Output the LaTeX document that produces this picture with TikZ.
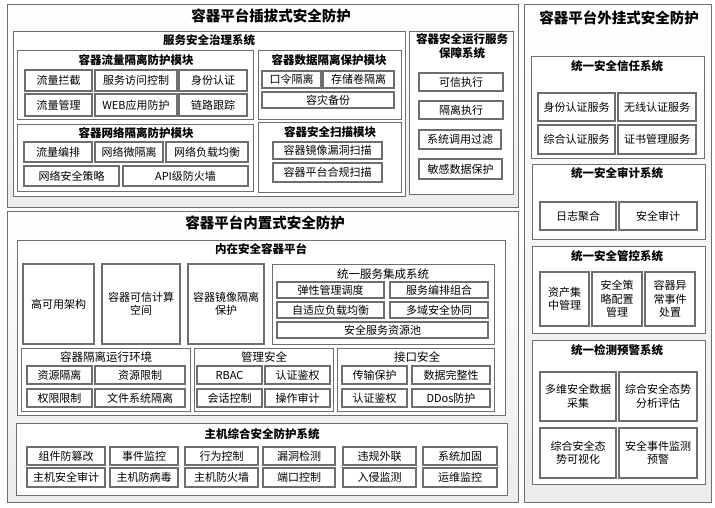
\documentclass[tikz,border=0pt]{standalone}
\usepackage{fontspec}
\setmainfont{Noto Sans CJK SC}
\definecolor{bord}{HTML}{6E6E6E}
\definecolor{bgg}{HTML}{ECECEC}
\tikzset{
  item/.style={draw=bord, line width=1.1pt, fill=white, inner sep=0.5pt, outer sep=0pt, align=center, font=\fontsize{11}{13.5}\selectfont},
  grp/.style={draw=bord, line width=0.8pt, fill=white, inner sep=0pt, outer sep=0pt},
  outerbox/.style={draw=bord, line width=0.8pt, top color=white, bottom color=bgg, inner sep=0pt, outer sep=0pt},
  bigt/.style={font=\bfseries\fontsize{14.5}{16}\selectfont, inner sep=0pt},
  midt/.style={font=\bfseries\fontsize{11.5}{14}\selectfont, inner sep=0pt, align=center},
  regt/.style={font=\fontsize{11.5}{14}\selectfont, inner sep=0pt},
}
\newcommand{\bx}[7]{\node[#6, anchor=north west, minimum width={(#4-#2)*1pt}, minimum height={(#5-#3)*1pt}] (#1) at (#2,#3) {#7};}
\begin{document}
\begin{tikzpicture}[x=1pt,y=-1pt]
\path[fill=white] (0,0) rectangle (715,508);
\useasboundingbox (0,0) rectangle (715,508);
% outer frames
\bx{o1}{7}{4}{518}{207}{outerbox}{}
\bx{o2}{7}{211}{518}{502}{outerbox}{}
\bx{o3}{524}{4}{711}{502}{outerbox}{}
\node[bigt] (t1) at (271,16) {容器平台插拔式安全防护};
\node[bigt] (t2) at (265,223) {容器平台内置式安全防护};
\node[bigt] (t3) at (619,18) {容器平台外挂式安全防护};
% service governance
\bx{g1}{13}{31}{405}{196}{grp}{}
\node[midt] (g1t) at (209,40) {服务安全治理系统};
\bx{m1}{17}{50}{253}{119}{grp}{}
\node[midt] (m1t) at (136,60) {容器流量隔离防护模块};
\bx{a1}{25}{70}{92}{91}{item}{流量拦截}
\bx{a2}{95}{70}{177}{91}{item}{服务访问控制}
\bx{a3}{179}{70}{247}{91}{item}{身份认证}
\bx{a4}{25}{94}{92}{116}{item}{流量管理}
\bx{a5}{95}{94}{177}{116}{item}{WEB应用防护}
\bx{a6}{179}{94}{247}{116}{item}{链路跟踪}
\bx{m2}{17}{124}{253}{191}{grp}{}
\node[midt] (m2t) at (136,133) {容器网络隔离防护模块};
\bx{b1}{24}{142}{92}{162}{item}{流量编排}
\bx{b2}{95}{142}{163}{162}{item}{网络微隔离}
\bx{b3}{166}{142}{248}{162}{item}{网络负载均衡}
\bx{b4}{24}{166}{119}{186}{item}{网络安全策略}
\bx{b5}{123}{166}{248}{186}{item}{API级防火墙}
\bx{m3}{258}{50}{401}{119}{grp}{}
\node[midt] (m3t) at (329,60) {容器数据隔离保护模块};
\bx{c1}{262}{71}{321}{88}{item}{口令隔离}
\bx{c2}{323}{71}{394}{88}{item}{存储卷隔离}
\bx{c3}{262}{92}{394}{108}{item}{容灾备份}
\bx{m4}{258}{122}{401}{192}{grp}{}
\node[midt] (m4t) at (330,132) {容器安全扫描模块};
\bx{d1}{273}{142}{382}{159}{item}{容器镜像漏洞扫描}
\bx{d2}{273}{163}{382}{182}{item}{容器平台合规扫描}
% runtime
\bx{g2}{409}{31}{513}{194}{grp}{}
\node[midt] (g2t) at (462,46) {容器安全运行服务\\保障系统};
\bx{e1}{419}{73}{503}{91}{item}{可信执行}
\bx{e2}{419}{101}{503}{119}{item}{隔离执行}
\bx{e3}{419}{130}{501}{149}{item}{系统调用过滤}
\bx{e4}{419}{159}{502}{179}{item}{敏感数据保护}
% right column
\bx{r1}{531}{56}{704}{158}{grp}{}
\node[midt] (r1t) at (617,66) {统一安全信任系统};
\bx{f1}{538}{93}{615}{121}{item}{身份认证服务}
\bx{f2}{618}{93}{696}{121}{item}{无线认证服务}
\bx{f3}{538}{125}{615}{154}{item}{综合认证服务}
\bx{f4}{618}{125}{696}{154}{item}{证书管理服务}
\bx{r2}{532}{164}{705}{239}{grp}{}
\node[midt] (r2t) at (617,173) {统一安全审计系统};
\bx{f5}{540}{202}{616}{230}{item}{日志聚合}
\bx{f6}{619}{202}{697}{230}{item}{安全审计}
\bx{r3}{532}{246}{705}{333}{grp}{}
\node[midt] (r3t) at (617,256) {统一安全管控系统};
\bx{f7}{540}{272}{589}{326}{item}{资产集\\中管理}
\bx{f8}{592}{272}{642}{326}{item}{安全策\\略配置\\管理}
\bx{f9}{645}{272}{695}{326}{item}{容器异\\常事件\\处置}
\bx{r4}{532}{340}{705}{484}{grp}{}
\node[midt] (r4t) at (617,350) {统一检测预警系统};
\bx{k1}{540}{372}{616}{421}{item}{多维安全数据\\采集}
\bx{k2}{619}{372}{697}{421}{item}{综合安全态势\\分析评估}
\bx{k3}{540}{428}{616}{478}{item}{综合安全态\\势可视化}
\bx{k4}{619}{428}{697}{478}{item}{安全事件监测\\预警}
% built-in platform
\bx{p1}{17}{240}{505}{415}{grp}{}
\node[midt] (p1t) at (261,249) {内在安全容器平台};
\bx{q1}{23}{264}{94}{344}{item}{高可用架构}
\bx{q2}{102}{264}{180}{344}{item}{容器可信计算\\空间}
\bx{q3}{188}{264}{264}{344}{item}{容器镜像隔离\\保护}
\bx{s1}{272}{264}{494}{344}{grp}{}
\node[regt] (s1t) at (383,274) {统一服务集成系统};
\bx{s2}{277}{282}{384}{298}{item}{弹性管理调度}
\bx{s3}{390}{282}{488}{298}{item}{服务编排组合}
\bx{s4}{277}{302}{384}{318}{item}{自适应负载均衡}
\bx{s5}{390}{302}{488}{318}{item}{多域安全协同}
\bx{s6}{277}{322}{488}{338}{item}{安全服务资源池}
\bx{u1}{21}{348}{190}{411}{grp}{}
\node[regt] (u1t) at (106,357) {容器隔离运行环境};
\bx{v1}{27}{366}{92}{384}{item}{资源隔离}
\bx{v2}{95}{366}{185}{384}{item}{资源限制}
\bx{v3}{27}{389}{92}{407}{item}{权限限制}
\bx{v4}{95}{389}{185}{407}{item}{文件系统隔离}
\bx{u2}{194}{348}{333}{411}{grp}{}
\node[regt] (u2t) at (264,357) {管理安全};
\bx{w1}{197}{366}{262}{384}{item}{RBAC}
\bx{w2}{265}{366}{330}{384}{item}{认证鉴权}
\bx{w3}{197}{389}{262}{407}{item}{会话控制}
\bx{w4}{265}{389}{330}{407}{item}{操作审计}
\bx{u3}{337}{348}{494}{411}{grp}{}
\node[regt] (u3t) at (417,357) {接口安全};
\bx{y1}{342}{366}{407}{384}{item}{传输保护}
\bx{y2}{412}{366}{490}{384}{item}{数据完整性}
\bx{y3}{342}{389}{407}{407}{item}{认证鉴权}
\bx{y4}{412}{389}{490}{407}{item}{DDos防护}
% host
\bx{h1}{16}{423}{507}{495}{grp}{}
\node[midt] (h1t) at (262,434) {主机综合安全防护系统};
\bx{z1}{27}{447}{105}{465}{item}{组件防篡改}
\bx{z2}{110}{447}{178}{465}{item}{事件监控}
\bx{z3}{185}{447}{258}{465}{item}{行为控制}
\bx{z4}{263}{447}{335}{465}{item}{漏洞检测}
\bx{z5}{343}{447}{416}{465}{item}{违规外联}
\bx{z6}{423}{447}{497}{465}{item}{系统加固}
\bx{z7}{27}{468}{105}{487}{item}{主机安全审计}
\bx{z8}{110}{468}{178}{487}{item}{主机防病毒}
\bx{z9}{185}{468}{258}{487}{item}{主机防火墙}
\bx{z10}{263}{468}{335}{487}{item}{端口控制}
\bx{z11}{343}{468}{416}{487}{item}{入侵监测}
\bx{z12}{423}{468}{497}{487}{item}{运维监控}
\end{tikzpicture}
\end{document}
